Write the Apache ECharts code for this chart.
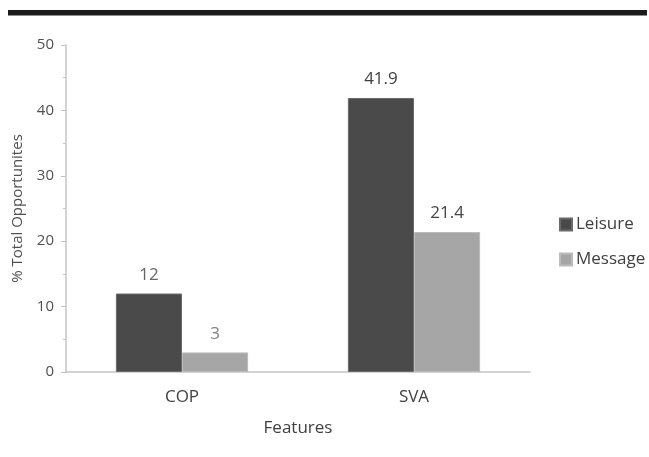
<!DOCTYPE html>
<html>
<head>
<meta charset="utf-8">
<script src="https://cdn.jsdelivr.net/npm/echarts@6/dist/echarts.min.js"></script>
<style>
  html, body { margin: 0; padding: 0; background: #fff; }
  #chart { width: 649px; height: 457px; }
</style>
</head>
<body>
<div id="chart"></div>
<script>
// Feature categories and the share of opportunities per type
const categories = ['COP', 'SVA'];
const leisure = [12, 41.9];
const message = [3, 21.4];
const yTicks = [0, 10, 20, 30, 40, 50];

const FONT = '"Open Sans", sans-serif';
const TEXT = '#404040';

// value label tint per category (the COP labels are printed lighter)
const labelTint = ['#666666', '#404040'];
const labelTintLight = ['#808080', '#454545'];

const chart = echarts.init(document.getElementById('chart'));
chart.setOption({
  animation: false,
  backgroundColor: '#ffffff',
  textStyle: { fontFamily: FONT },
  graphic: [
    { type: 'rect', left: 8, top: 10, shape: { width: 639, height: 5.5 }, style: { fill: '#1c1c1c' } }
  ],
  grid: { left: 66, right: 119, top: 45, bottom: 85 },
  legend: {
    orient: 'vertical',
    left: 559,
    top: 216,
    padding: 0,
    itemWidth: 12,
    itemHeight: 12,
    itemGap: 18,
    icon: 'rect',
    textStyle: { fontFamily: FONT, fontSize: 17, color: TEXT, padding: [0, 0, 0, -1] },
    data: ['Leisure', 'Message']
  },
  xAxis: {
    type: 'category',
    data: categories,
    name: 'Features',
    nameLocation: 'middle',
    nameGap: 48,
    nameTextStyle: { fontFamily: FONT, fontSize: 17, color: TEXT },
    axisLine: { lineStyle: { color: '#c4c4c4', width: 1.5 } },
    axisTick: { show: false },
    axisLabel: { fontFamily: FONT, fontSize: 17, color: TEXT, margin: 17 }
  },
  yAxis: {
    type: 'value',
    min: yTicks[0],
    max: yTicks[yTicks.length - 1],
    interval: 10,
    name: '% Total Opportunites',
    nameLocation: 'middle',
    nameGap: 41,
    nameTextStyle: { fontFamily: FONT, fontSize: 15, color: '#505050' },
    axisLine: { show: true, lineStyle: { color: '#c4c4c4', width: 1.5 } },
    axisTick: { show: true, length: 5, lineStyle: { color: '#c4c4c4' } },
    minorTick: { show: true, splitNumber: 2, length: 3, lineStyle: { color: '#c4c4c4' } },
    splitLine: { show: false },
    axisLabel: { fontFamily: FONT, fontSize: 15, color: '#505050', margin: 12 }
  },
  series: [
    {
      name: 'Leisure',
      type: 'bar',
      data: leisure.map((v, i) => ({ value: v, label: { color: labelTint[i] } })),
      barGap: '0%',
      barCategoryGap: '43%',
      itemStyle: { color: '#4a4a4a', borderColor: '#6a6a6a', borderWidth: 1 },
      label: { show: true, position: 'top', distance: 10, fontFamily: FONT, fontSize: 17 }
    },
    {
      name: 'Message',
      type: 'bar',
      data: message.map((v, i) => ({ value: v, label: { color: labelTintLight[i] } })),
      itemStyle: { color: '#a6a6a6', borderColor: '#bcbcbc', borderWidth: 1 },
      label: { show: true, position: 'top', distance: 10, fontFamily: FONT, fontSize: 17 }
    }
  ]
});
</script>
</body>
</html>
